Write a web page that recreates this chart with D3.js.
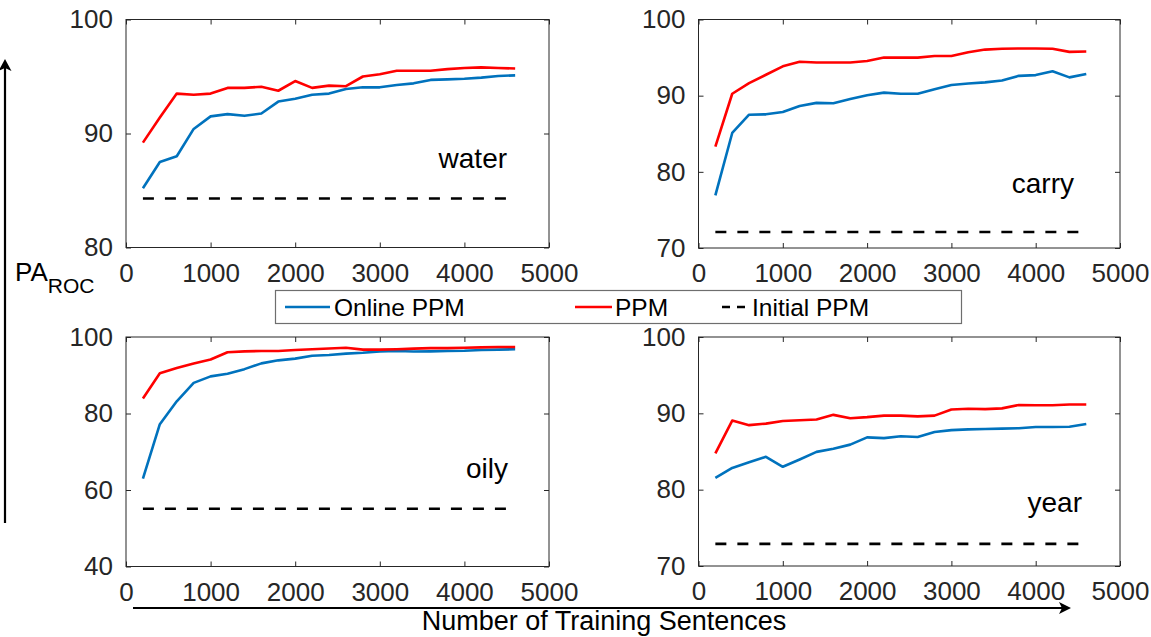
<!DOCTYPE html>
<html>
<head>
<meta charset="utf-8">
<script src="https://cdn.jsdelivr.net/npm/d3@7"></script>
<style>
  html, body { margin: 0; padding: 0; background: #fff; }
  svg { display: block; }
  text { font-family: "Liberation Sans", Arial, Helvetica, sans-serif; }
</style>
</head>
<body>
<svg id="chart" width="1151" height="637"></svg>
<script>
// ---------------- data ----------------
const trainSizes = [200,400,600,800,1000,1200,1400,1600,1800,2000,2200,2400,2600,2800,3000,3200,3400,3600,3800,4000,4200,4400,4600];

const waterOnline = [85.2,87.5,88.0,90.4,91.5,91.7,91.55,91.75,92.8,93.05,93.4,93.5,93.9,94.05,94.05,94.25,94.4,94.7,94.75,94.8,94.9,95.05,95.1];
const waterPPM    = [89.2,91.4,93.5,93.4,93.5,94.0,94.0,94.1,93.75,94.6,94.0,94.2,94.15,95.0,95.2,95.5,95.5,95.5,95.65,95.75,95.8,95.75,95.7];
const waterInitial = 84.3;

const carryOnline = [76.9,85.1,87.5,87.55,87.85,88.65,89.05,89.0,89.55,90.05,90.4,90.25,90.25,90.85,91.4,91.6,91.75,92.0,92.6,92.7,93.2,92.4,92.85];
const carryPPM    = [83.3,90.25,91.65,92.75,93.85,94.45,94.35,94.35,94.35,94.55,95.0,95.0,95.0,95.2,95.2,95.7,96.05,96.15,96.2,96.2,96.15,95.75,95.8];
const carryInitial = 72.1;

const oilyOnline = [63.0,77.2,83.2,88.0,89.7,90.4,91.6,93.1,93.9,94.35,95.1,95.3,95.65,95.9,96.25,96.35,96.2,96.25,96.35,96.4,96.6,96.7,96.8];
const oilyPPM    = [83.9,90.5,91.9,93.1,94.1,96.0,96.25,96.35,96.35,96.6,96.8,97.0,97.2,96.7,96.7,96.8,96.95,97.1,97.1,97.2,97.3,97.4,97.4];
const oilyInitial = 55.1;

const yearOnline = [81.55,82.85,83.6,84.3,83.0,83.95,84.95,85.35,85.9,86.85,86.75,87.0,86.9,87.55,87.8,87.9,87.95,88.0,88.05,88.2,88.2,88.25,88.6];
const yearPPM    = [84.75,89.05,88.45,88.65,89.0,89.1,89.2,89.8,89.35,89.5,89.7,89.7,89.6,89.7,90.5,90.6,90.55,90.65,91.1,91.05,91.05,91.15,91.15];
const yearInitial = 72.9;

const xTicks = [0,1000,2000,3000,4000,5000];
const waterTicks = [80,90,100];
const carryTicks = [70,80,90,100];
const oilyTicks  = [40,60,80,100];
const yearTicks  = [70,80,90,100];

const seriesNames = ["Online PPM","PPM","Initial PPM"];
const yAxisTitle = "PA";
const yAxisSub = "ROC";
const xAxisTitle = "Number of Training Sentences";

// ---------------- layout ----------------
const panels = [
  {word:"water", online:waterOnline, ppm:waterPPM, init:waterInitial, ticks:waterTicks,
   x0:126, x1:549, y0:19.5, y1:247.5, labelX:4504, labelY:168},
  {word:"carry", online:carryOnline, ppm:carryPPM, init:carryInitial, ticks:carryTicks,
   x0:698.5, x1:1120, y0:19.5, y1:248, labelX:4454, labelY:193},
  {word:"oily", online:oilyOnline, ppm:oilyPPM, init:oilyInitial, ticks:oilyTicks,
   x0:126, x1:549, y0:337, y1:566.5, labelX:4515, labelY:478},
  {word:"year", online:yearOnline, ppm:yearPPM, init:yearInitial, ticks:yearTicks,
   x0:698.5, x1:1120, y0:337, y1:566, labelX:4549, labelY:512}
];

const BLUE = "#0072BD", RED = "#FF0000", AX = "#262626";
const LW = 2.6;
const svg = d3.select("#chart");
svg.append("rect").attr("width",1151).attr("height",637).attr("fill","#fff");

panels.forEach(p => {
  const x = d3.scaleLinear().domain([0,5000]).range([p.x0,p.x1]);
  const y = d3.scaleLinear().domain([p.ticks[0], p.ticks[p.ticks.length-1]]).range([p.y1,p.y0]);
  const g = svg.append("g");

  // box
  g.append("rect").attr("x",p.x0).attr("y",p.y0).attr("width",p.x1-p.x0).attr("height",p.y1-p.y0)
    .attr("fill","none").attr("stroke",AX).attr("stroke-width",1);

  const styleAxis = sel => {
    sel.select(".domain").remove();
    sel.selectAll(".tick line").attr("stroke",AX).attr("stroke-width",1);
    sel.selectAll(".tick text").attr("fill",AX).attr("font-size",26);
  };

  g.append("g").attr("transform",`translate(0,${p.y1})`)
    .call(d3.axisBottom(x).tickValues(xTicks).tickSizeInner(-5).tickSizeOuter(0).tickPadding(16).tickFormat(d3.format("d")))
    .call(styleAxis);
  g.append("g").attr("transform",`translate(0,${p.y0})`)
    .call(d3.axisTop(x).tickValues(xTicks).tickSizeInner(-5).tickSizeOuter(0).tickFormat(""))
    .call(styleAxis);
  g.append("g").attr("transform",`translate(${p.x0},0)`)
    .call(d3.axisLeft(y).tickValues(p.ticks).tickSizeInner(-5).tickSizeOuter(0).tickPadding(13).tickFormat(d3.format("d")))
    .call(styleAxis);
  g.append("g").attr("transform",`translate(${p.x1},0)`)
    .call(d3.axisRight(y).tickValues(p.ticks).tickSizeInner(-5).tickSizeOuter(0).tickFormat(""))
    .call(styleAxis);
  g.selectAll("text").attr("font-family","Liberation Sans, Arial, sans-serif");

  const line = d3.line().x((d,i)=>x(trainSizes[i])).y(d=>y(d));
  // initial (dashed)
  g.append("line")
    .attr("x1",x(trainSizes[0])).attr("x2",x(trainSizes[trainSizes.length-1]))
    .attr("y1",y(p.init)).attr("y2",y(p.init))
    .attr("stroke","#000").attr("stroke-width",LW).attr("stroke-dasharray","11,11");
  g.append("path").datum(p.online).attr("d",line).attr("fill","none")
    .attr("stroke",BLUE).attr("stroke-width",LW).attr("stroke-linejoin","round");
  g.append("path").datum(p.ppm).attr("d",line).attr("fill","none")
    .attr("stroke",RED).attr("stroke-width",LW).attr("stroke-linejoin","round");

  g.append("text").attr("x",x(p.labelX)).attr("y",p.labelY).attr("text-anchor","end")
    .attr("font-size",28).attr("fill","#000").text(p.word);
});

// ---------------- legend ----------------
const lg = svg.append("g");
lg.append("rect").attr("x",275.5).attr("y",290.5).attr("width",686).attr("height",33)
  .attr("fill","#fff").attr("stroke","#6e6e6e").attr("stroke-width",1.2);
const legendItems = [
  {name:seriesNames[0], color:BLUE, dash:null, lx0:285, lx1:330, tx:334},
  {name:seriesNames[1], color:RED, dash:null, lx0:575, lx1:612, tx:615},
  {name:seriesNames[2], color:"#000", dash:"8,7", lx0:722, lx1:745, tx:752}
];
legendItems.forEach(it => {
  lg.append("line").attr("x1",it.lx0).attr("x2",it.lx1).attr("y1",307).attr("y2",307)
    .attr("stroke",it.color).attr("stroke-width",LW).attr("stroke-dasharray",it.dash);
  lg.append("text").attr("x",it.tx).attr("y",315.5).attr("font-size",24.5).attr("fill","#000").text(it.name);
});

// ---------------- arrows & axis titles ----------------
svg.append("line").attr("x1",5).attr("x2",5).attr("y1",523).attr("y2",68)
  .attr("stroke","#000").attr("stroke-width",2.2);
svg.append("path").attr("d","M5,59 L11.5,71 L5,68 L-1.5,71 Z").attr("fill","#000");

svg.append("line").attr("x1",133).attr("x2",1064).attr("y1",608).attr("y2",608)
  .attr("stroke","#000").attr("stroke-width",2.2);
svg.append("path").attr("d","M1071,608 L1059,602 L1062,608 L1059,614 Z").attr("fill","#000");

const yt = svg.append("text").attr("x",15).attr("y",281).attr("font-size",26).attr("fill","#000");
yt.append("tspan").text(yAxisTitle);
yt.append("tspan").attr("font-size",21).attr("dy",12).text(yAxisSub);

svg.append("text").attr("x",604).attr("y",630).attr("text-anchor","middle")
  .attr("font-size",27).attr("fill","#000").text(xAxisTitle);
</script>
</body>
</html>
